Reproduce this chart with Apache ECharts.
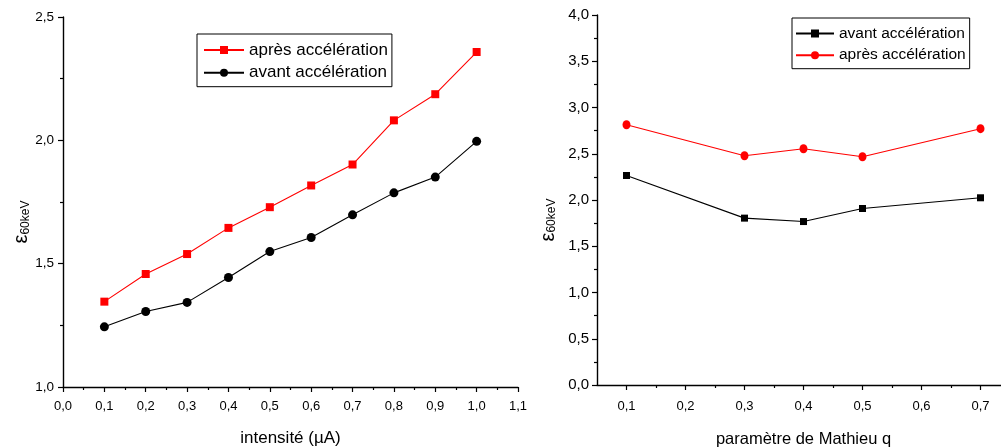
<!DOCTYPE html>
<html><head><meta charset="utf-8">
<script src="https://cdn.jsdelivr.net/npm/echarts@6/dist/echarts.min.js"></script>
<style>html,body{margin:0;padding:0;background:#fff}#c{width:1001px;height:447px}</style>
</head><body><div id="c"></div>
<script>
// Left panel: ε60keV vs intensité (µA)
const intensite = [0.1, 0.2, 0.3, 0.4, 0.5, 0.6, 0.7, 0.8, 0.9, 1.0];
const apresLeft = [1.346, 1.458, 1.539, 1.645, 1.729, 1.817, 1.902, 2.081, 2.187, 2.358];
const avantLeft = [1.244, 1.306, 1.343, 1.444, 1.549, 1.606, 1.698, 1.787, 1.851, 1.996];
// Right panel: ε60keV vs paramètre de Mathieu q
const mathieuQ = [0.1, 0.3, 0.4, 0.5, 0.7];
const avantRight = [2.265, 1.804, 1.767, 1.908, 2.024];
const apresRight = [2.814, 2.478, 2.554, 2.468, 2.771];
// Right x-axis tick values
const rightXTicks = [0.1, 0.2, 0.3, 0.4, 0.5, 0.6, 0.7];
const rightXMinorTicks = [0.15, 0.25, 0.35, 0.45, 0.55, 0.65];

const ZW = '\u200b';
const FONT = '"Liberation Sans", Arial, sans-serif';
const fmt = v => (Math.round(v * 10) / 10).toFixed(1).replace('.', ',');
const pairs = (xs, ys) => xs.map((x, i) => [x, ys[i]]);

const axisLineStyle = {show: true, onZero: false, lineStyle: {color: '#000', width: 1.4}};
const tickStyle = {show: true, inside: false, length: 5, lineStyle: {color: '#000', width: 1.2}};
const minorStyle = {show: true, splitNumber: 2, length: 3, lineStyle: {color: '#000', width: 1.2}};

function yName(gap, subSize, extraPad) {
  return {
    name: '{e|ε}{s|60keV}',
    nameLocation: 'middle',
    nameRotate: 90,
    nameGap: gap,
    nameTextStyle: {
      padding: [0, extraPad, 0, 0],
      rich: {
        e: {fontSize: 20, fontFamily: FONT, color: '#000'},
        s: {fontSize: subSize, fontFamily: FONT, color: '#000', verticalAlign: 'bottom'}
      }
    }
  };
}

const chart = echarts.init(document.getElementById('c'));
chart.setOption({
  backgroundColor: '#fff',
  animation: false,
  textStyle: {fontFamily: FONT, color: '#000'},
  grid: [
    {left: 63, right: 483, top: 17, bottom: 60, containLabel: false, outerBoundsMode: 'none'},
    {left: 597, right: -9, top: 15, bottom: 62, containLabel: false, outerBoundsMode: 'none'}
  ],
  legend: [
    {
      orient: 'vertical', left: 197, top: 34,
      data: ['après accélération', 'avant accélération'],
      itemWidth: 40, itemHeight: 10, itemGap: 2.7,
      padding: [6, 4, 4, 6],
      borderColor: '#000', borderWidth: 1,
      textStyle: {fontSize: 17, lineHeight: 20, fontFamily: FONT, color: '#000'},
      selectedMode: false
    },
    {
      orient: 'vertical', left: 792, top: 18,
      data: ['avant accélération' + ZW, 'après accélération' + ZW],
      formatter: n => n.replace(ZW, ''),
      itemWidth: 38, itemHeight: 10, itemGap: 2.7,
      padding: [6, 4, 4, 3],
      borderColor: '#000', borderWidth: 1,
      textStyle: {fontSize: 15.5, lineHeight: 19, fontFamily: FONT, color: '#000'},
      selectedMode: false
    }
  ],
  xAxis: [
    {
      type: 'value', gridIndex: 0, position: 'bottom', min: 0, max: 1.1, interval: 0.1,
      axisLine: axisLineStyle, axisTick: tickStyle, minorTick: minorStyle,
      splitLine: {show: false},
      axisLabel: {fontSize: 13, color: '#000', margin: 13, formatter: fmt, fontFamily: FONT},
      name: 'intensité (µA)', nameLocation: 'middle', nameGap: 43,
      nameTextStyle: {fontSize: 17, color: '#000', fontFamily: FONT}
    },
    {
      type: 'value', gridIndex: 1, position: 'bottom', min: 0.05, max: 0.75,
      axisLine: axisLineStyle,
      axisTick: Object.assign({}, tickStyle, {customValues: rightXTicks}),
      splitLine: {show: false},
      axisLabel: {fontSize: 13, color: '#000', margin: 15, formatter: fmt, fontFamily: FONT, customValues: rightXTicks},
      name: 'paramètre de Mathieu q', nameLocation: 'middle', nameGap: 46,
      nameTextStyle: {fontSize: 16.5, color: '#000', fontFamily: FONT}
    },
    {
      type: 'value', gridIndex: 1, position: 'bottom', offset: 0, min: 0.05, max: 0.75,
      axisLine: {show: false, onZero: false},
      axisTick: {show: true, inside: false, length: 3, lineStyle: {color: '#000', width: 1.2}, customValues: rightXMinorTicks},
      axisLabel: {show: false},
      splitLine: {show: false}
    }
  ],
  yAxis: [
    Object.assign({
      type: 'value', gridIndex: 0, min: 1.0, max: 2.5, interval: 0.5,
      axisLine: axisLineStyle, axisTick: tickStyle, minorTick: minorStyle,
      splitLine: {show: false},
      axisLabel: {fontSize: 13.5, color: '#000', margin: 9, formatter: fmt, fontFamily: FONT}
    }, yName(31, 12, 40)),
    Object.assign({
      type: 'value', gridIndex: 1, min: 0, max: 4, interval: 0.5,
      axisLine: axisLineStyle, axisTick: tickStyle, minorTick: minorStyle,
      splitLine: {show: false},
      axisLabel: {fontSize: 15, color: '#000', margin: 8, formatter: fmt, fontFamily: FONT}
    }, yName(39, 12, 40))
  ],
  series: [
    {
      name: 'après accélération', type: 'line', xAxisIndex: 0, yAxisIndex: 0,
      data: pairs(intensite, apresLeft), symbol: 'rect', symbolSize: 8, showAllSymbol: true,
      lineStyle: {color: '#ff0000', width: 1.1}, itemStyle: {color: '#ff0000', borderWidth: 0}
    },
    {
      name: 'avant accélération', type: 'line', xAxisIndex: 0, yAxisIndex: 0,
      data: pairs(intensite, avantLeft), symbol: 'circle', symbolSize: 9, showAllSymbol: true,
      lineStyle: {color: '#000', width: 1.1}, itemStyle: {color: '#000', borderWidth: 0}
    },
    {
      name: 'avant accélération' + ZW, type: 'line', xAxisIndex: 1, yAxisIndex: 1,
      data: pairs(mathieuQ, avantRight), symbol: 'rect', symbolSize: 7, showAllSymbol: true,
      lineStyle: {color: '#000', width: 1.1}, itemStyle: {color: '#000', borderWidth: 0}
    },
    {
      name: 'après accélération' + ZW, type: 'line', xAxisIndex: 1, yAxisIndex: 1,
      data: pairs(mathieuQ, apresRight), symbol: 'circle', symbolSize: [8, 9], showAllSymbol: true,
      lineStyle: {color: '#ff0000', width: 1.1}, itemStyle: {color: '#ff0000', borderWidth: 0}
    }
  ]
});
</script>
</body></html>
